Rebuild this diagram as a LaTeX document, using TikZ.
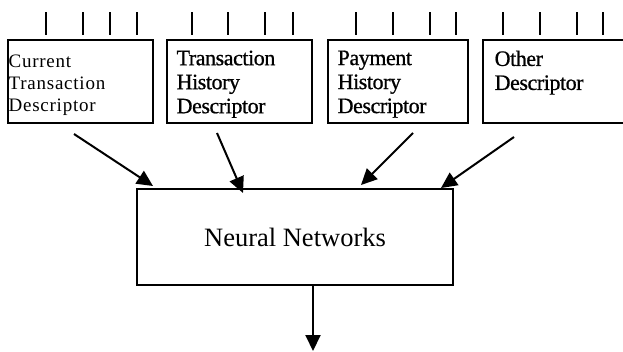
\documentclass[tikz,border=0pt]{standalone}
\usepackage{fontspec}
\setmainfont{Liberation Serif}
\newfontfamily\heavyfont[FakeBold=0.8, LetterSpace=-2]{Liberation Serif}
\usetikzlibrary{arrows.meta,calc}

\begin{document}
\begin{tikzpicture}[x=1pt, y=-1pt,
  box/.style={draw, line width=1.1pt, rectangle, inner sep=0pt, minimum height=83pt},
  boxtext/.style={anchor=north west, inner sep=0pt, align=left, font=\heavyfont\fontsize{22}{24}\selectfont},
  arr/.style={line width=2pt, -{Triangle[length=16pt, width=15pt]}}]

\useasboundingbox (0,0) rectangle (623,351);
\clip (0,0) rectangle (623,351);

\def \ticktop {12}
\def \tickbot {35}

% Descriptor boxes
\node (cur) at (80.5, 81.5) [box, minimum width=145pt] {};
\node (hist) at (239.5, 81.5) [box, minimum width=145pt] {};
\node (pay) at (398, 81.5) [box, minimum width=140pt] {};
\node (other) at (560, 81.5) [box, minimum width=154pt] {};

% Box texts
\node (curtext) at ($(cur.north west)+(1,15)$) [boxtext,
  font=\fontsize{19}{22}\selectfont\addfontfeature{LetterSpace=4}] {Current\\Transaction\\Descriptor};
\node (histtext) at ($(hist.north west)+(10,11)$) [boxtext] {Transaction\\History\\Descriptor};
\node (paytext) at ($(pay.north west)+(10,11)$) [boxtext] {Payment\\History\\Descriptor};
\node (othertext) at ($(other.north west)+(12,11)$) [boxtext] {Other\\Descriptor};

% Input ticks above the boxes
\foreach \x in {46, 83, 110, 137, 192, 228, 265, 293, 356, 393, 430, 456, 503, 540, 577, 603} {
  \draw[line width=1.5pt] (\x, \ticktop) -- (\x, \tickbot);
}

% Network
\node (nn) at (295, 237) [draw, line width=1.3pt, minimum width=316pt, minimum height=96pt,
  font=\fontsize{26.5}{30}\selectfont] {Neural Networks};

% Arrow ends
\coordinate (s1) at (74, 134);
\coordinate (t1) at (153, 186);
\coordinate (s2) at (217, 133);
\coordinate (t2) at (243, 193);
\coordinate (s3) at (413, 133);
\coordinate (t3) at (361, 185);
\coordinate (s4) at (514, 137);
\coordinate (t4) at (441, 188);
\coordinate (out) at (313, 351);

\draw[arr] (s1) -- (t1);
\draw[arr] (s2) -- (t2);
\draw[arr] (s3) -- (t3);
\draw[arr] (s4) -- (t4);
\draw[arr] (nn.south -| out) -- (out);

\end{tikzpicture}
\end{document}
